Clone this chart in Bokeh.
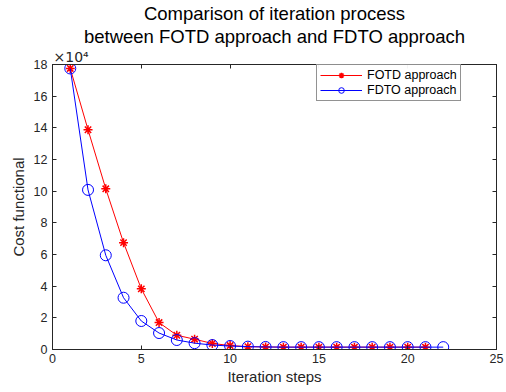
from bokeh.plotting import figure
from bokeh.models import LinearAxis, FixedTicker, CustomJSTickFormatter, Range1d, Legend, LegendItem, Title
from bokeh.embed import file_html
from bokeh.resources import INLINE

# Data (cost functional values, real units)
fotd_steps = list(range(1, 22))
fotd_cost = [177500, 138800, 101500, 67500, 38300, 17000, 9000, 6500, 3800, 2500,
             1800, 1600, 1500, 1500, 1500, 1500, 1500, 1500, 1500, 1500, 1500]
fdto_steps = list(range(1, 23))
fdto_cost = [177500, 100800, 59500, 32700, 18000, 10400, 6000, 4000, 2800, 2200,
             1800, 1600, 1500, 1500, 1500, 1500, 1500, 1500, 1500, 1500, 1500, 1500]
x_ticks = [0, 5, 10, 15, 20, 25]
y_ticks = [0, 20000, 40000, 60000, 80000, 100000, 120000, 140000, 160000, 180000]
title_lines = ["Comparison of iteration process", "between FOTD approach and FDTO approach"]

FONT = "Liberation Sans"
INK = "#262626"

p = figure(width=506, height=392, output_backend="svg", toolbar_location=None,
           x_range=Range1d(0, 25), y_range=Range1d(0, 180000), title=None,
           min_border_left=52, min_border_right=10, min_border_top=10, min_border_bottom=43)
p.grid.visible = False
p.outline_line_color = INK
p.outline_line_width = 1
p.background_fill_color = "white"
p.border_fill_color = "white"

fmt = CustomJSTickFormatter(code="return (tick/10000).toString();")
for ax in p.xaxis + p.yaxis:
    ax.major_tick_in = 4
    ax.major_tick_out = 0
    ax.minor_tick_in = 0
    ax.minor_tick_out = 0
    ax.axis_line_color = INK
    ax.major_tick_line_color = INK
    ax.major_label_text_font = FONT
    ax.major_label_text_font_size = "12.5px"
    ax.major_label_text_color = INK
    ax.axis_label_text_font = FONT
    ax.axis_label_text_font_size = "15px"
    ax.axis_label_text_font_style = "normal"
    ax.axis_label_text_color = INK
p.xaxis.ticker = FixedTicker(ticks=x_ticks)
p.yaxis.ticker = FixedTicker(ticks=y_ticks)
p.yaxis.formatter = fmt
p.xaxis.axis_label = "Iteration steps"
p.yaxis.axis_label = "Cost functional"
p.xaxis.axis_label_standoff = 2
p.yaxis.axis_label_standoff = 4
p.xaxis.major_label_standoff = 4

blank = CustomJSTickFormatter(code="return '';")
top = LinearAxis(ticker=FixedTicker(ticks=x_ticks), formatter=blank, major_tick_in=4, major_tick_out=0,
                 minor_tick_in=0, minor_tick_out=0, major_label_standoff=0,
                 axis_line_color=INK, major_tick_line_color=INK)
right = LinearAxis(ticker=FixedTicker(ticks=y_ticks), formatter=blank, major_tick_in=4, major_tick_out=0,
                   minor_tick_in=0, minor_tick_out=0, major_label_standoff=0,
                   axis_line_color=INK, major_tick_line_color=INK)
p.add_layout(top, "above")
p.add_layout(right, "right")

# exponent marker, then the two title lines (outermost added last)
p.add_layout(Title(text="×10⁴", align="left", offset=1, text_font="DejaVu Sans", text_font_size="14px",
                   text_font_style="normal", text_color=INK, standoff=0), "above")
p.add_layout(Title(text=title_lines[1], align="center", text_font=FONT, text_font_size="18.5px",
                   text_font_style="normal", text_color="black", standoff=0), "above")
p.add_layout(Title(text=title_lines[0], align="center", text_font=FONT, text_font_size="18.5px",
                   text_font_style="normal", text_color="black", standoff=0), "above")

l1 = p.line(fotd_steps, fotd_cost, line_color="red", line_width=1)
s1 = p.scatter(fotd_steps, fotd_cost, marker="asterisk", size=9, line_color="red", line_width=1.5)
l2 = p.line(fdto_steps, fdto_cost, line_color="blue", line_width=1)
s2 = p.scatter(fdto_steps, fdto_cost, marker="circle", size=11, line_color="blue",
               fill_color=None, line_width=1)

legend = Legend(items=[LegendItem(label="FOTD approach", renderers=[l1, s1]),
                       LegendItem(label="FDTO approach", renderers=[l2, s2])],
                location=(264, 248), label_text_font=FONT, label_text_font_size="12.5px",
                label_height=14, glyph_height=14, glyph_width=42, spacing=1,
                padding=3, margin=0, border_line_color=INK,
                label_text_color="black")
p.add_layout(legend, "center")

open("out.html", "w").write(file_html(p, INLINE))
